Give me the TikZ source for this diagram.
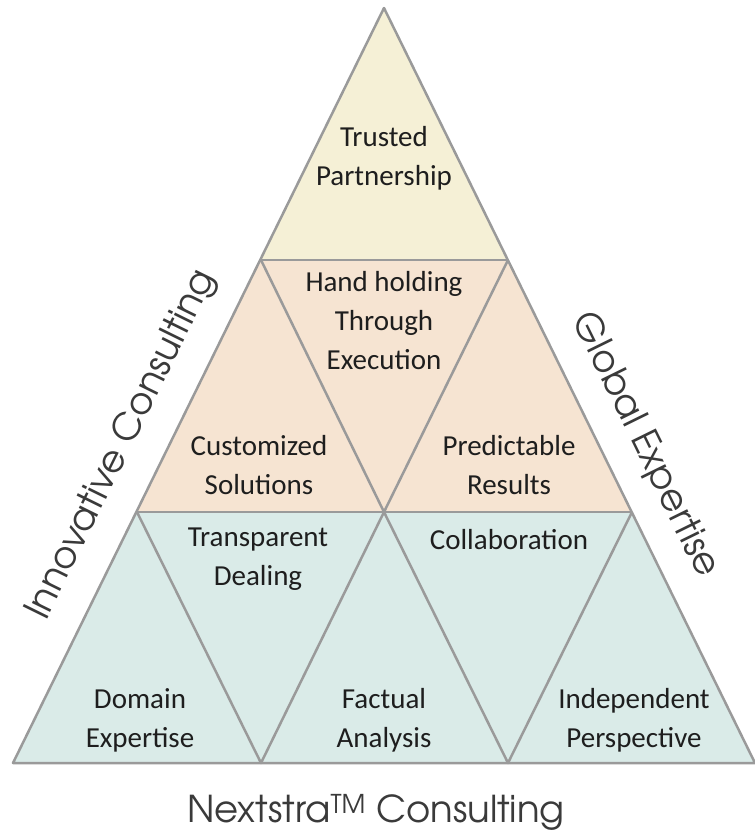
\documentclass[tikz,border=0pt]{standalone}
\usepackage{fontspec}
\setmainfont{Carlito}
\newfontfamily\gothic{TeX Gyre Adventor}
\usepackage{tikz}
\definecolor{topfill}{HTML}{F5F0D6}
\definecolor{midfill}{HTML}{F6E4D2}
\definecolor{lowfill}{HTML}{DAEBE8}
\definecolor{edge}{HTML}{9A9A9A}
\definecolor{ink}{HTML}{1E1E1E}
\definecolor{brand}{HTML}{3A3A3A}
\tikzstyle{cell}=[align=center,text=ink,font=\fontsize{29}{39}\selectfont,inner sep=0pt]
\tikzstyle{side}=[text=brand,font=\gothic\fontsize{37}{40}\selectfont,inner sep=0pt]
\newcommand{\rim}{
  \draw[edge,line width=2.5pt,line join=round]
}

\begin{document}
\begin{tikzpicture}[x=1pt,y=-1pt]
\useasboundingbox (0,0) rectangle (755,839);
% corners of the grid
\coordinate (apex) at (384,8);
\coordinate (a1) at (261,260);
\coordinate (a2) at (508,260);
\coordinate (b1) at (137,512);
\coordinate (b2) at (384,512);
\coordinate (b3) at (632,512);
\coordinate (c1) at (13,763);
\coordinate (c2) at (261,763);
\coordinate (c3) at (508,763);
\coordinate (c4) at (755,763);
% bands
\fill[topfill] (apex) -- (a1) -- (a2) -- cycle;
\fill[midfill] (a1) -- (b1) -- (b3) -- (a2) -- cycle;
\fill[lowfill] (b1) -- (c1) -- (c4) -- (b3) -- cycle;
% edges
\rim (apex) -- (c1) -- (c4) -- cycle;
\rim (a1) -- (a2);
\rim (b1) -- (b3);
\rim (a1) -- (b2) -- (a2);
\rim (b1) -- (c2) -- (b2) -- (c3) -- (b3);
% texts
\node[cell] (trust) at (384,158) {Trusted\\Partnership};
\node[cell] (hand) at (384,321) {Hand holding\\Through\\Execution};
\node[cell] (custom) at (259,465) {Customized\\Solutions};
\node[cell] (predict) at (509,465) {Predictable\\Results};
\node[cell] (transp) at (258,559) {Transparent\\Dealing};
\node[cell] (collab) at (509,540) {Collaboration};
\node[cell] (domain) at (140,720) {Domain\\Expertise};
\node[cell] (factual) at (384,720) {Factual\\Analysis};
\node[cell] (indep) at (634,720) {Independent\\Perspective};
% outer labels
\node[side,rotate=63.8] (innov) at (122,445) {Innovative Consulting};
\node[side,rotate=-63.8] (global) at (645,445) {Global Expertise};
\node[side] (brandname) at (376,812) {Nextstra\textsuperscript{TM} Consulting};
\end{tikzpicture}
\end{document}
